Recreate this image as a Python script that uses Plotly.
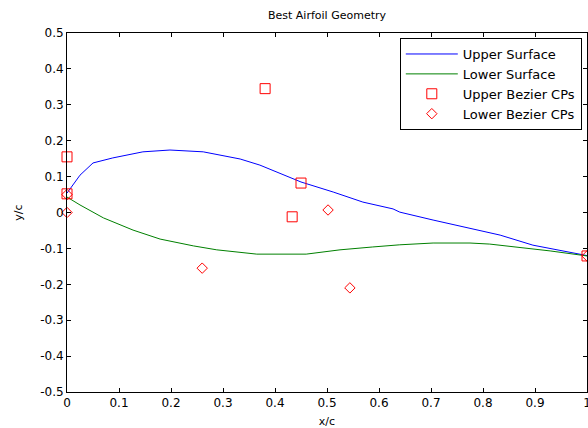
import plotly.graph_objects as go

# Upper surface
upper_x = [0.0, 0.025, 0.05, 0.088, 0.146, 0.198, 0.262, 0.313, 0.333, 0.371, 0.45, 0.512,
           0.569, 0.627, 0.64, 0.704, 0.769, 0.833, 0.896, 1.0]
upper_y = [0.054, 0.104, 0.138, 0.152, 0.169, 0.174, 0.169, 0.155, 0.149, 0.132, 0.085, 0.057,
           0.029, 0.010, 0.001, -0.021, -0.043, -0.063, -0.091, -0.12]

# Lower surface
lower_x = [0.0, 0.025, 0.07, 0.127, 0.179, 0.243, 0.288, 0.333, 0.365, 0.46, 0.525, 0.588,
           0.64, 0.704, 0.775, 0.813, 0.865, 0.929, 1.0]
lower_y = [0.043, 0.021, -0.015, -0.049, -0.074, -0.093, -0.104, -0.110, -0.116, -0.116,
           -0.104, -0.096, -0.090, -0.085, -0.085, -0.088, -0.096, -0.107, -0.121]

# Bezier control points
upper_cp_x = [0.0, 0.0, 0.381, 0.433, 0.45, 1.0]
upper_cp_y = [0.052, 0.155, 0.345, -0.012, 0.082, -0.121]
lower_cp_x = [0.0, 0.0, 0.26, 0.502, 0.544, 1.0]
lower_cp_y = [0.05, 0.0, -0.155, 0.007, -0.21, -0.121]

x_ticks = [0, 0.1, 0.2, 0.3, 0.4, 0.5, 0.6, 0.7, 0.8, 0.9, 1]
x_tick_text = ["0", "0.1", "0.2", "0.3", "0.4", "0.5", "0.6", "0.7", "0.8", "0.9", "1"]
y_ticks = [0.5, 0.4, 0.3, 0.2, 0.1, 0, -0.1, -0.2, -0.3, -0.4, -0.5]
y_tick_text = ["0.5", "0.4", "0.3", "0.2", "0.1", "0", "-0.1", "-0.2", "-0.3", "-0.4", "-0.5"]

FONT = "DejaVu Sans"

fig = go.Figure()
fig.add_trace(go.Scatter(x=upper_x, y=upper_y, mode="lines", name="Upper Surface",
                         line=dict(color="#0000ff", width=1)))
fig.add_trace(go.Scatter(x=lower_x, y=lower_y, mode="lines", name="Lower Surface",
                         line=dict(color="#008000", width=1)))
fig.add_trace(go.Scatter(x=upper_cp_x, y=upper_cp_y, mode="markers", name="Upper Bezier CPs",
                         marker=dict(symbol="square-open", size=10, color="#ff0000",
                                     line=dict(width=1, color="#ff0000")), cliponaxis=False))
fig.add_trace(go.Scatter(x=lower_cp_x, y=lower_cp_y, mode="markers", name="Lower Bezier CPs",
                         marker=dict(symbol="diamond-open", size=8, color="#ff0000",
                                     line=dict(width=1, color="#ff0000")), cliponaxis=False))

axis_common = dict(showgrid=False, zeroline=False, showline=True, linecolor="black",
                   linewidth=1, mirror="ticks", ticks="inside", ticklen=4,
                   tickcolor="black", automargin=False, ticklabeloverflow="allow",
                   tickfont=dict(family=FONT, size=12, color="black"))

fig.update_layout(
    width=588, height=428,
    margin=dict(l=67, r=1, t=33, b=36, autoexpand=False),
    paper_bgcolor="white", plot_bgcolor="white",
    font=dict(family=FONT, size=12, color="black"),
    title=dict(text="Best Airfoil Geometry", x=327 / 588, xanchor="center",
               yref="container", y=1 - 15 / 428, yanchor="middle",
               font=dict(family=FONT, size=11, color="black")),
    xaxis=dict(range=[0, 1], tickvals=x_ticks, ticktext=x_tick_text,
               title=dict(text="x/c", standoff=7, font=dict(family=FONT, size=11)),
               **axis_common),
    yaxis=dict(range=[-0.5, 0.5], tickvals=y_ticks, ticktext=y_tick_text,
               title=dict(text="y/c", standoff=15, font=dict(family=FONT, size=11)),
               **axis_common),
    legend=dict(x=0.99, xanchor="right", y=0.986, yanchor="top",
                bgcolor="white", bordercolor="black", borderwidth=1,
                font=dict(family=FONT, size=13, color="black"),
                tracegroupgap=0, itemwidth=52),
    showlegend=True,
)

fig.write_html("out.html", config={"displayModeBar": False},
               post_script="document.body.style.margin='0';")
